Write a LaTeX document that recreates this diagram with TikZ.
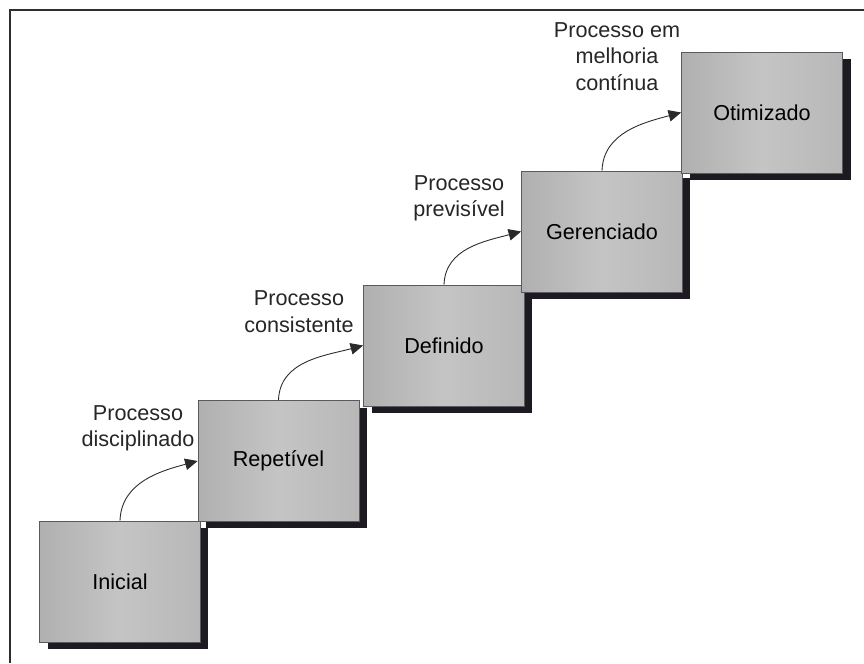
\documentclass[tikz,border=0pt]{standalone}
\usepackage{fontspec}
\setmainfont{Liberation Sans}
\usetikzlibrary{arrows.meta, shadows}
\definecolor{cedge}{HTML}{5A5A5E}
\definecolor{cshadow}{HTML}{1E1A22}
\definecolor{cframe}{HTML}{2E2E30}
\definecolor{carrow}{HTML}{2A2A2A}
\tikzset{
  every picture/.style={font=\fontsize{12.3}{15}\selectfont},
  stage/.style={draw=cedge, line width=0.5pt, left color=black!31, right color=black!28, middle color=black!23,
    minimum width=3.22cm, minimum height=2.42cm, inner sep=0pt,
    drop shadow={shadow xshift=0.16cm, shadow yshift=-0.14cm, fill=cshadow, opacity=1}},
  climb/.style={-{Triangle[length=2.5mm, width=2.3mm]}, draw=carrow, line width=0.5pt},
  lbl/.style={align=center, inner sep=0pt, text=black!85},
  frame/.style={draw=cframe, line width=1.4pt},
}

\begin{document}
\begin{tikzpicture}[x=0.02cm, y=-0.02cm]
  \useasboundingbox (0,0) rectangle (864,663);
  % frame of the page
  \draw[frame] (10,663) -- (10,10) -- (864,10);
  % the five stages
  \foreach \name/\cx/\cy/\txt in {s1/120/581.5/Inicial, s2/278.5/461/Repetível, s3/444/345.5/Definido,
      s4/602/231.5/Gerenciado, s5/762/112.5/Otimizado}
    \node[stage] (\name) at (\cx,\cy) {\txt};
  % labels of the steps
  \node[lbl] (l1) at (138,428) {Processo\\disciplinado};
  \node[lbl] (l2) at (299,311.5) {Processo\\consistente};
  \node[lbl] (l3) at (459,198) {Processo\\previsível};
  \node[lbl] (l4) at (617,56.5) {Processo em\\melhoria\\contínua};
  % arrows between stages
  \foreach \a/\b in {s1/s2, s2/s3, s3/s4, s4/s5}
    \draw[climb] (\a.north) to[out=88, in=195] (\b.west);
\end{tikzpicture}
\end{document}
